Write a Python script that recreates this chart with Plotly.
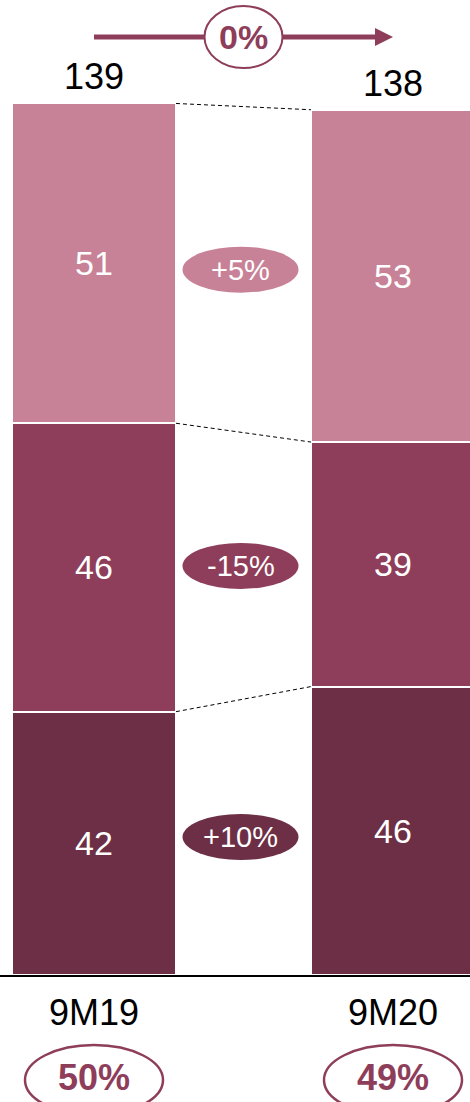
import plotly.graph_objects as go

# ---------------- data ----------------
categories = ["9M19", "9M20"]
bottom_vals = [42, 46]
middle_vals = [46, 39]
top_vals = [51, 53]
totals = [139, 138]
seg_changes = ["+10%", "-15%", "+5%"]   # bottom, middle, top
total_change = "0%"
shares = ["50%", "49%"]

# ---------------- style ----------------
colors = ["#6C2F45", "#8E3E5A", "#C88298"]
ACCENT = "#8E3E5A"
FONT = "Arial, Liberation Sans, sans-serif"
xs = [0, 1]
W = 0.5485

fig = go.Figure()
series = [bottom_vals, middle_vals, top_vals]
for vals, col in zip(series, colors):
    fig.add_bar(
        x=xs, y=vals, width=W,
        marker=dict(color=col, line=dict(color="white", width=2)),
        texttemplate="%{y}", textposition="inside", insidetextanchor="middle",
        textfont=dict(color="white", size=34, family=FONT),
        hoverinfo="skip", showlegend=False,
    )

# cumulative levels
cums = []
run = [0, 0]
for vals in series:
    run = [run[i] + vals[i] for i in range(2)]
    cums.append(list(run))

# dashed connectors
for lvl in cums:
    fig.add_scatter(
        x=[xs[0] + W / 2, xs[1] - W / 2], y=lvl, mode="lines",
        line=dict(color="black", width=1, dash="4px,3px"),
        hoverinfo="skip", showlegend=False,
    )

shapes = []
annotations = []

# change ovals between bars
prev = [0, 0]
for vals, col, lbl, lvl in zip(series, colors, seg_changes, cums):
    centers = [prev[i] + vals[i] / 2 for i in range(2)]
    yc = sum(centers) / 2
    prev = lvl
    shapes.append(dict(
        type="circle", xref="x", yref="y", xsizemode="pixel", ysizemode="pixel",
        xanchor=0.49, yanchor=yc, x0=-58, x1=58, y0=-23, y1=23,
        fillcolor=col, line=dict(width=0), layer="above",
    ))
    annotations.append(dict(
        x=0.49, y=yc, xref="x", yref="y", text=lbl, showarrow=False,
        xanchor="center", yanchor="middle",
        font=dict(color="white", size=29, family=FONT),
    ))

# totals above bars
for x, t in zip(xs, totals):
    annotations.append(dict(
        x=x, y=t, xref="x", yref="y", text=str(t), showarrow=False,
        xanchor="center", yanchor="bottom", yshift=4,
        font=dict(color="black", size=36, family=FONT),
    ))

# top arrow with total change
YA = 0.962
shapes.append(dict(type="line", xref="x", yref="paper", x0=0, x1=0.97, y0=YA, y1=YA,
                   line=dict(color=ACCENT, width=5), layer="above"))
shapes.append(dict(type="path", xref="x", yref="paper", xsizemode="pixel", ysizemode="pixel",
                   xanchor=1, yanchor=YA, path="M0,0 L-18,9 L-18,-9 Z",
                   fillcolor=ACCENT, line=dict(width=0), layer="above"))
shapes.append(dict(type="circle", xref="x", yref="paper", xsizemode="pixel", ysizemode="pixel",
                   xanchor=0.5, yanchor=YA, x0=-39, x1=39, y0=-31, y1=31,
                   fillcolor="white", line=dict(color=ACCENT, width=2), layer="above"))
annotations.append(dict(x=0.5, y=YA, xref="x", yref="paper", text="<b>%s</b>" % total_change,
                        showarrow=False, xanchor="center", yanchor="middle",
                        font=dict(color=ACCENT, size=34, family=FONT)))

# bottom share ovals
YB = -0.1077
for x, s in zip(xs, shares):
    shapes.append(dict(type="circle", xref="x", yref="paper", xsizemode="pixel", ysizemode="pixel",
                       xanchor=x, yanchor=YB, x0=-69, x1=69, y0=-35, y1=35,
                       fillcolor="rgba(0,0,0,0)", line=dict(color=ACCENT, width=2.5), layer="above"))
    annotations.append(dict(x=x, y=YB, xref="x", yref="paper", text="<b>%s</b>" % s,
                            showarrow=False, xanchor="center", yanchor="middle", yshift=3,
                            font=dict(color=ACCENT, size=36, family=FONT)))

fig.update_layout(
    width=470, height=1102,
    margin=dict(l=0, r=0, t=0, b=127, pad=0),
    plot_bgcolor="white", paper_bgcolor="white",
    barmode="stack", bargap=0,
    shapes=shapes, annotations=annotations,
    font=dict(family=FONT),
    xaxis=dict(
        range=[-94 / 299, 376 / 299], tickvals=xs, ticktext=categories,
        tickfont=dict(size=36, color="black", family=FONT), ticks="",
        showgrid=False, zeroline=False, showline=True, linecolor="black", linewidth=2,
        ticklabelstandoff=5, fixedrange=True,
    ),
    yaxis=dict(range=[0, 975 / 6.27], visible=False, showgrid=False, zeroline=False, fixedrange=True),
)

fig.write_html(
    "out.html",
    config={"displayModeBar": False, "staticPlot": True},
    post_script="document.body.style.margin='0px';document.body.style.overflow='hidden';",
)
